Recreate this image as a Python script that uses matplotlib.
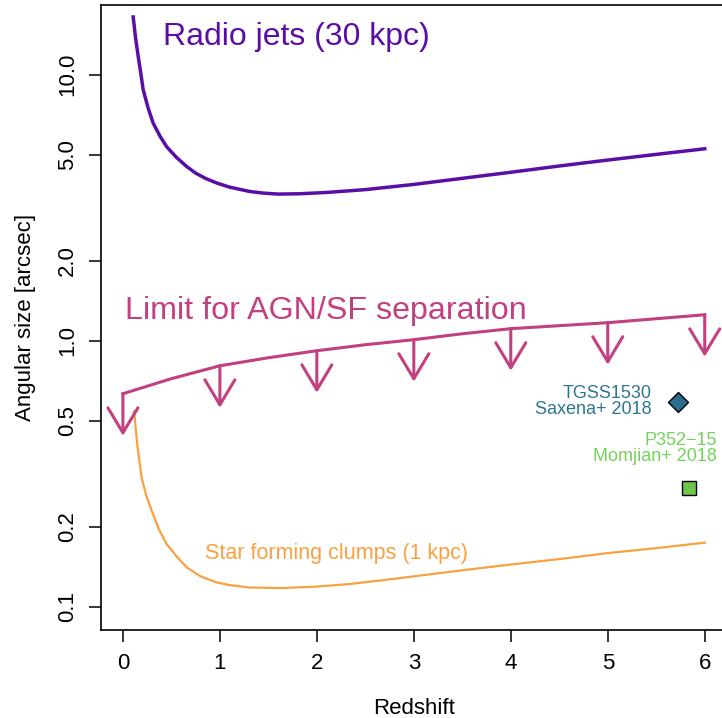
import matplotlib
matplotlib.use("Agg")
import matplotlib.pyplot as plt

plt.rcParams['font.family'] = ['Liberation Sans', 'DejaVu Sans']

# Radio jets (30 kpc) angular size vs redshift
radio_z = [0.106, 0.13, 0.158, 0.185, 0.209, 0.26, 0.312, 0.38, 0.45, 0.55, 0.657, 0.75, 0.85,
           0.966, 1.1, 1.309, 1.45, 1.6, 1.825, 2.1, 2.5, 3.0, 3.5, 4.0, 4.5, 5.0, 5.5, 6.0]
radio_v = [16.5, 13.8, 11.7, 10.1, 8.79, 7.5, 6.58, 5.9, 5.37, 4.9, 4.52, 4.27, 4.08,
           3.92, 3.78, 3.64, 3.59, 3.56, 3.57, 3.61, 3.70, 3.87, 4.08, 4.30, 4.54, 4.78, 5.02, 5.27]

# Star forming clumps (1 kpc)
sf_z = [0.116, 0.15, 0.193, 0.24, 0.296, 0.37, 0.45, 0.55, 0.657, 0.8, 0.966, 1.1, 1.309,
        1.653, 2.0, 2.34, 2.7, 3.0, 3.5, 4.0, 4.5, 5.0, 5.5, 6.0]
sf_v = [0.542, 0.40, 0.306, 0.262, 0.230, 0.196, 0.172, 0.155, 0.1406, 0.130, 0.1234, 0.1205, 0.118,
        0.1175, 0.119, 0.1217, 0.126, 0.130, 0.137, 0.144, 0.151, 0.159, 0.166, 0.174]

# Limit for AGN/SF separation
lim_z = [0, 0.5, 1, 1.5, 2, 2.5, 3, 3.5, 4, 4.5, 5, 5.5, 6]
lim_v = [0.632, 0.720, 0.805, 0.863, 0.917, 0.966, 1.009, 1.062, 1.110, 1.139, 1.169, 1.210, 1.252]
arrow_z = [0, 1, 2, 3, 4, 5, 6]
arrow_v = [0.632, 0.805, 0.917, 1.009, 1.110, 1.169, 1.252]
arrow_factor = 0.695

# Sources
tgss_z, tgss_v = 5.72, 0.59
p352_z, p352_v = 5.84, 0.28

xticks = [0, 1, 2, 3, 4, 5, 6]
yticks = [0.1, 0.2, 0.5, 1.0, 2.0, 5.0, 10.0]
yticklabels = ["0.1", "0.2", "0.5", "1.0", "2.0", "5.0", "10.0"]

c_radio = '#5b0ea6'
c_lim = '#c2407f'
c_sf = '#f9a03f'
c_tgss = '#2d7690'
c_tgss_fill = '#2b6d8c'
c_p352 = '#74d25c'
c_p352_fill = '#6cc74a'

fig = plt.figure(figsize=(7.22, 7.18), dpi=100)
ax = fig.add_axes([101/722, 88/718, 627/722, 625/718])
ax.set_yscale('log')
ax.set_xlim(-0.226, 6.24)
ax.set_ylim(0.0817, 18.3)

ax.plot(radio_z, radio_v, color=c_radio, lw=2.5, solid_joinstyle='round')
ax.plot(sf_z, sf_v, color=c_sf, lw=1.6, solid_joinstyle='round')
ax.plot(lim_z, lim_v, color=c_lim, lw=2.2, solid_joinstyle='round')
for z, v in zip(arrow_z, arrow_v):
    ax.annotate('', xy=(z, v * arrow_factor), xytext=(z, v),
                arrowprops=dict(arrowstyle='->,head_length=1.8,head_width=1.08',
                                color=c_lim, lw=2.2, shrinkA=0, shrinkB=0,
                                mutation_scale=10))

ax.plot([tgss_z], [tgss_v], marker='D', markersize=10.5, markerfacecolor=c_tgss_fill,
        markeredgecolor='black', markeredgewidth=1.0, linestyle='none')
ax.plot([p352_z], [p352_v], marker='s', markersize=10.5, markerfacecolor=c_p352_fill,
        markeredgecolor='black', markeredgewidth=1.0, linestyle='none')

ax.text(0.41, 12.98, 'Radio jets (30 kpc)', color=c_radio, fontsize=23, ha='left', va='baseline')
ax.text(0.02, 1.207, 'Limit for AGN/SF separation', color=c_lim, fontsize=23.2, ha='left', va='baseline')
ax.text(0.845, 0.151, 'Star forming clumps (1 kpc)', color=c_sf, fontsize=15.5, ha='left', va='baseline')

ax.text(5.45, tgss_v, 'TGSS1530\nSaxena+ 2018', color=c_tgss, fontsize=13, ha='right',
        va='center', multialignment='right', linespacing=0.95)
ax.text(6.13, 0.393, 'P352\u221215\nMomjian+ 2018', color=c_p352, fontsize=13, ha='right',
        va='center', multialignment='right', linespacing=0.95)

ax.set_xticks(xticks)
ax.set_xticklabels([str(t) for t in xticks])
ax.set_yticks(yticks)
ax.set_yticklabels(yticklabels, rotation=90, va='center')
ax.minorticks_off()
ax.tick_params(axis='both', length=8.5, width=1.1, labelsize=16, direction='out', pad=8)
for s in ax.spines.values():
    s.set_linewidth(1.2)

ax.set_xlabel('Redshift', fontsize=16, labelpad=17)
ax.set_ylabel('Angular size [arcsec]', fontsize=16, labelpad=15)

fig.savefig('out.png', dpi=100)
